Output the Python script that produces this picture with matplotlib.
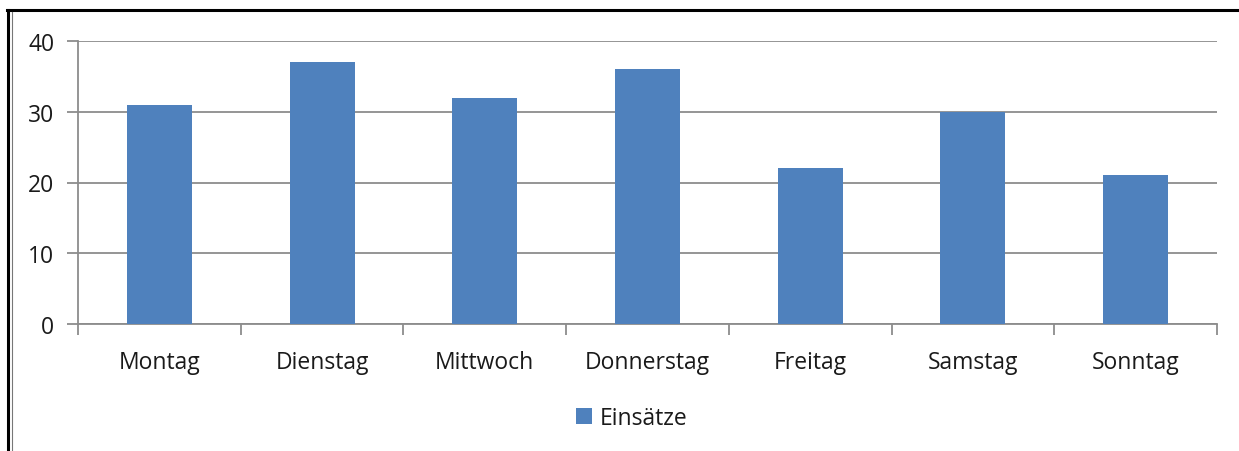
import matplotlib
matplotlib.use("Agg")
import matplotlib.pyplot as plt
from matplotlib.lines import Line2D
from matplotlib.patches import Patch
import numpy as np

categories = ["Montag", "Dienstag", "Mittwoch", "Donnerstag", "Freitag", "Samstag", "Sonntag"]
values = [31, 37, 32, 36, 22, 30, 21]
series_name = "Einsätze"
yticks = [0, 10, 20, 30, 40]

W, H = 1239, 452
fig = plt.figure(figsize=(W / 100, H / 100), dpi=100)
plt.rcParams['font.family'] = ['Open Sans', 'DejaVu Sans']
FS = 16.5
TC = "#1a1a1a"

left, right, top, bottom = 78, 1217, 42, 325
ax = fig.add_axes([left / W, 1 - bottom / H, (right - left) / W, (bottom - top) / H])

x = np.arange(len(categories))
bar_color = "#4F81BD"
ax.bar(x, values, width=0.4, color=bar_color, zorder=3)
ax.set_xlim(-0.5, len(categories) - 0.5)
ax.set_ylim(0, 40)
ax.set_yticks(yticks)
ax.set_yticklabels([str(t) for t in yticks], fontsize=FS, color=TC)
ax.yaxis.grid(True, color="#8c8c8c", linewidth=1.3, zorder=0)
ax.set_axisbelow(True)

for s in ["top", "right"]:
    ax.spines[s].set_visible(False)
ax.spines["left"].set_color("#8c8c8c")
ax.spines["bottom"].set_color("#8c8c8c")
ax.spines["left"].set_linewidth(1.3)
ax.spines["bottom"].set_linewidth(1.3)

ax.tick_params(axis="y", length=8, width=1.3, color="#8c8c8c", pad=9)
# category labels at centers, tick marks at boundaries
ax.set_xticks(np.arange(len(categories) + 1) - 0.5)
ax.set_xticklabels([""] * (len(categories) + 1))
ax.tick_params(axis="x", length=8, width=1.3, color="#8c8c8c")
ax.set_xticks(x, minor=True)
ax.set_xticklabels(categories, minor=True, fontsize=FS, color=TC)
ax.tick_params(axis="x", which="minor", length=0, pad=19)

handle = Patch(facecolor=bar_color, edgecolor="none")
fig.legend([handle], [series_name], loc="center", bbox_to_anchor=(632 / W, 1 - 419 / H),
           frameon=False, fontsize=FS, handlelength=0.68, handleheight=0.68,
           handletextpad=0.35, labelcolor=TC)

# outer frame lines (top and left)
fig.add_artist(Line2D([7 / W, 1], [1 - 11 / H, 1 - 11 / H], color="black", linewidth=2.2, transform=fig.transFigure))
fig.add_artist(Line2D([8 / W, 8 / W], [0, 1 - 11 / H], color="black", linewidth=2.2, transform=fig.transFigure))
fig.add_artist(Line2D([11.5 / W, 11.5 / W], [0, 1 - 13 / H], color="#777777", linewidth=0.8, transform=fig.transFigure))

fig.savefig("out.png", dpi=100)
